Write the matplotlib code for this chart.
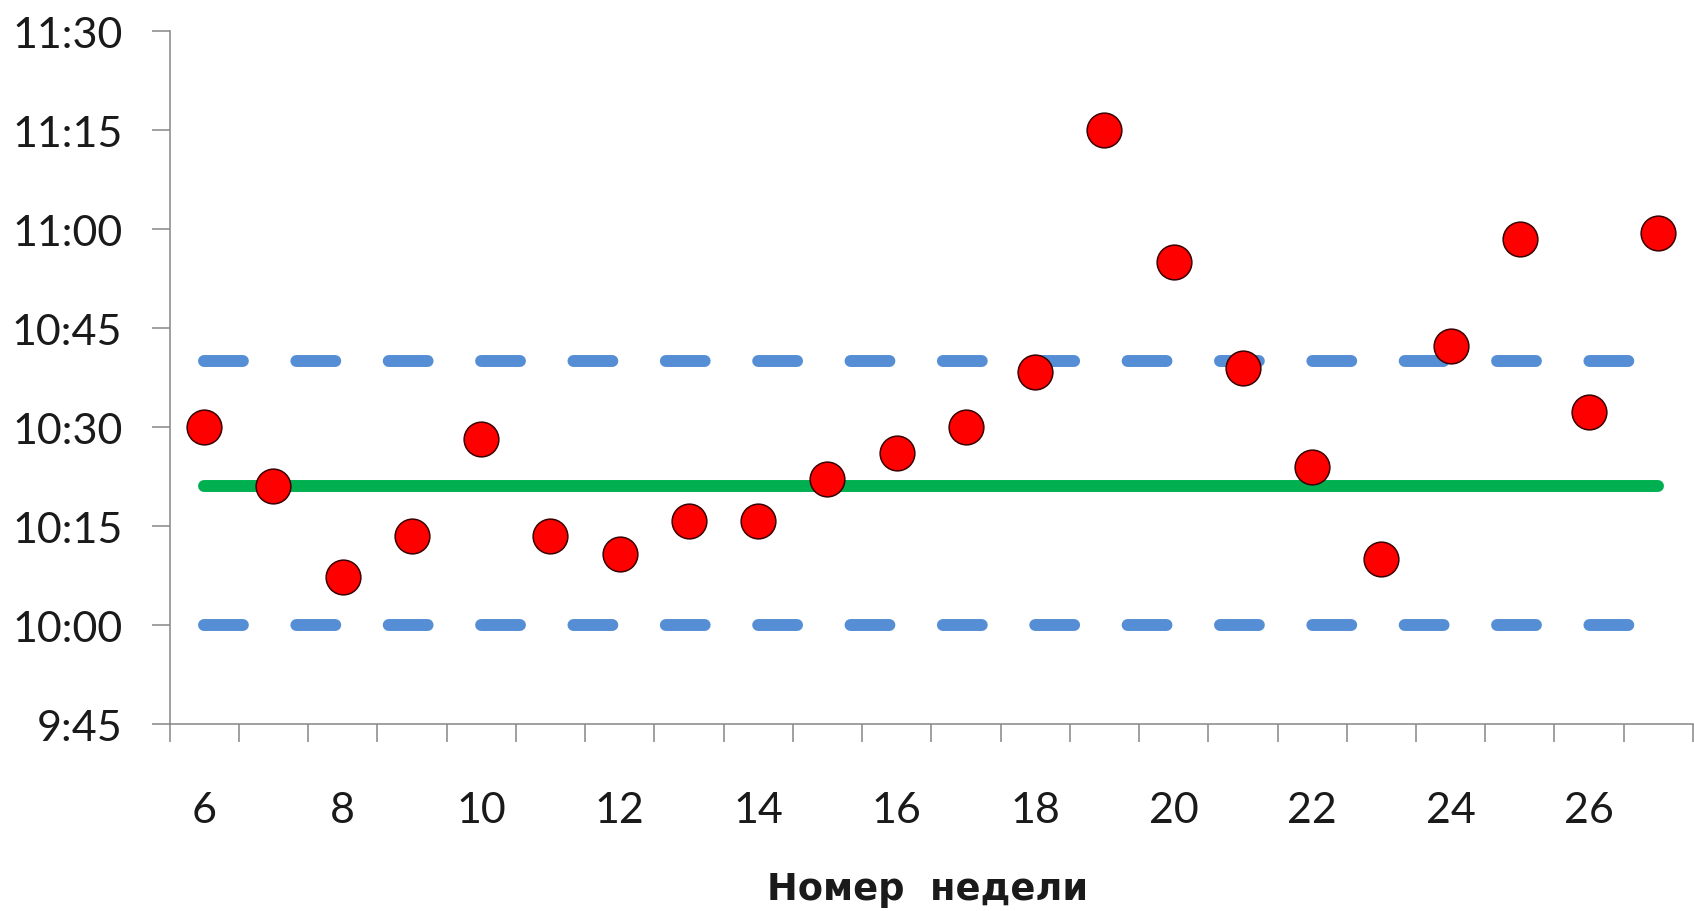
import matplotlib
matplotlib.use("Agg")
from matplotlib import pyplot as plt
from matplotlib.ticker import FixedLocator, FuncFormatter

# weekly arrival times
weeks = list(range(6, 28))
times = ["10:30:00", "10:21:00", "10:07:20", "10:13:25", "10:28:10", "10:13:25",
         "10:10:50", "10:15:50", "10:15:50", "10:22:10", "10:26:00", "10:30:00",
         "10:38:20", "11:15:00", "10:55:00", "10:39:00", "10:24:00", "10:10:00",
         "10:42:20", "10:58:30", "10:32:20", "10:59:20"]
center_line = ["10:21:00"] * len(weeks)
upper_limit = ["10:40:00"] * len(weeks)
lower_limit = ["10:00:00"] * len(weeks)
y_ticks = ["9:45", "10:00", "10:15", "10:30", "10:45", "11:00", "11:15", "11:30"]
x_labels = [6, 8, 10, 12, 14, 16, 18, 20, 22, 24, 26]
x_title = "Номер  недели"


def to_min(s):
    parts = [int(p) for p in s.split(":")]
    while len(parts) < 3:
        parts.append(0)
    return parts[0] * 60 + parts[1] + parts[2] / 60


def fmt_time(v, pos=None):
    v = int(round(v))
    return "%d:%02d" % (v // 60, v % 60)


plt.rcParams['font.family'] = ['Lato', 'Noto Sans', 'DejaVu Sans']
plt.rcParams['lines.scale_dashes'] = False

fig = plt.figure(figsize=(16.94, 9.12), dpi=100)
ax = fig.add_axes([0.1001, 0.2050, 0.8993, 0.7599])

grey = '#868686'
lw = 8.6

ax.plot(weeks, [to_min(t) for t in upper_limit], color='#558ED5', lw=lw,
        dashes=(28.0, 38.5), dash_capstyle='round', zorder=2)
ax.plot(weeks, [to_min(t) for t in lower_limit], color='#558ED5', lw=lw,
        dashes=(28.0, 38.5), dash_capstyle='round', zorder=2)
ax.plot(weeks, [to_min(t) for t in center_line], color='#00B050', lw=lw,
        solid_capstyle='round', zorder=2)
ax.plot(weeks, [to_min(t) for t in times], ls='', marker='o', markersize=25,
        markerfacecolor='#FF0000', markeredgecolor='#3a0000', markeredgewidth=1.1,
        zorder=3, clip_on=False)

ax.set_xlim(5.5, 27.5)
ax.set_ylim(to_min("9:45"), to_min("11:30"))

for side in ['top', 'right']:
    ax.spines[side].set_visible(False)
for side in ['left', 'bottom']:
    ax.spines[side].set_color(grey)
    ax.spines[side].set_linewidth(1.1)

ax.yaxis.set_major_locator(FixedLocator([to_min(t) for t in y_ticks]))
ax.yaxis.set_major_formatter(FuncFormatter(fmt_time))
ax.tick_params(axis='y', direction='out', length=13, width=1.1, color=grey,
               labelsize=31, pad=21, labelcolor='#1a1a1a')

ax.xaxis.set_major_locator(FixedLocator([w - 0.5 for w in weeks] + [weeks[-1] + 0.5]))
ax.xaxis.set_major_formatter(FuncFormatter(lambda v, p: ""))
ax.xaxis.set_minor_locator(FixedLocator(x_labels))
ax.xaxis.set_minor_formatter(FuncFormatter(lambda v, p: "%d" % v))
ax.tick_params(axis='x', which='major', direction='out', length=13, width=1.1, color=grey)
ax.tick_params(axis='x', which='minor', length=0, labelsize=31, pad=48,
               labelcolor='#1a1a1a')

fig.text(928 / 1694, 1 - 900 / 912, x_title, ha='center', va='baseline',
         fontsize=26.5, fontweight='bold', color='#1a1a1a',
         family=['DejaVu Sans'])

fig.savefig("out.png", dpi=100)
